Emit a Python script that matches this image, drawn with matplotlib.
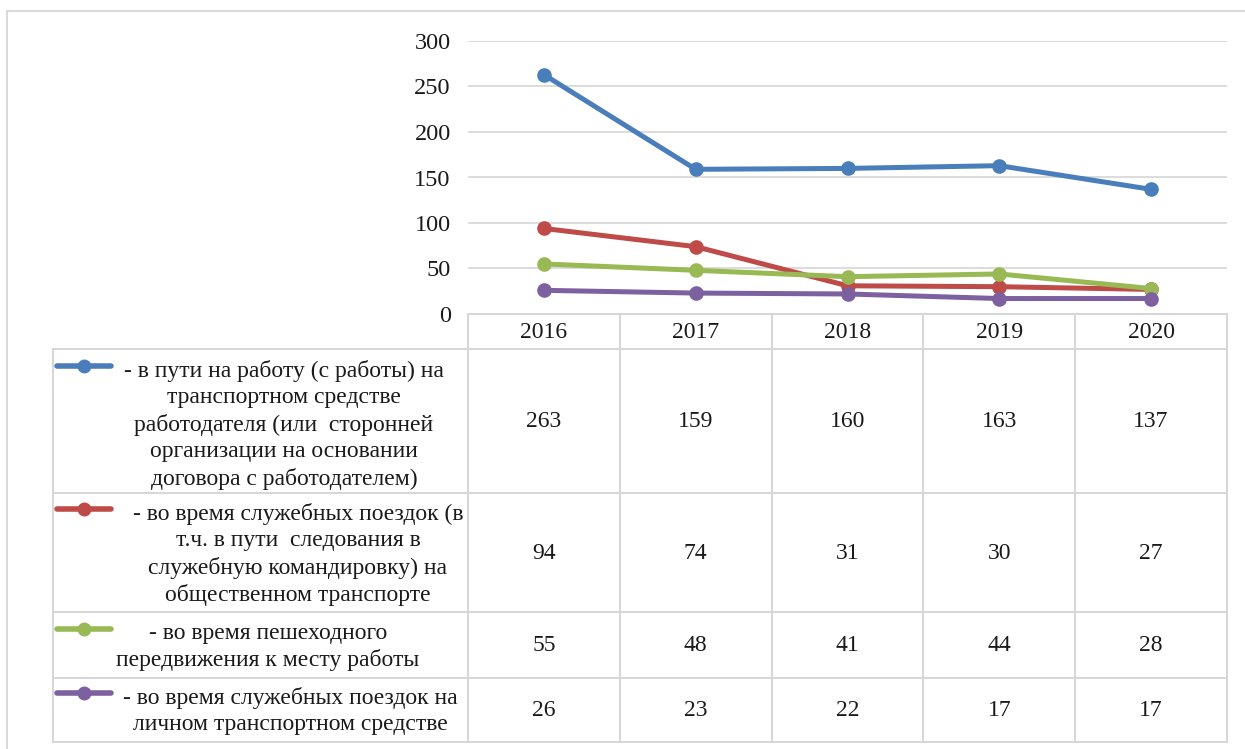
import matplotlib
matplotlib.use("Agg")
import matplotlib.pyplot as plt
from matplotlib.lines import Line2D

years = ["2016", "2017", "2018", "2019", "2020"]
series_labels = [
    "- в пути на работу (с работы) на\nтранспортном средстве\nработодателя (или  сторонней\nорганизации на основании\nдоговора с работодателем)",
    "- во время служебных поездок (в\nт.ч. в пути  следования в\nслужебную командировку) на\nобщественном транспорте",
    "- во время пешеходного\nпередвижения к месту работы",
    "- во время служебных поездок на\nличном транспортном средстве",
]
s_work_transport = [263, 159, 160, 163, 137]
s_business_public = [94, 74, 31, 30, 27]
s_pedestrian = [55, 48, 41, 44, 28]
s_business_personal = [26, 23, 22, 17, 17]
series_values = [s_work_transport, s_business_public, s_pedestrian, s_business_personal]
colors = ["#4A7EBB", "#BE4B48", "#98B954", "#7D60A0"]
yticks = [0, 50, 100, 150, 200, 250, 300]

W, H = 1245, 749
fig = plt.figure(figsize=(W / 100, H / 100), dpi=100)
plt.rcParams['font.family'] = ['Liberation Serif', 'DejaVu Serif']
FS = 17
FS_TICK = 17.5
grid_c = "#D9D9D9"
text_c = "#1A1A1A"

def fx(px):
    return px / W

def fy(py):
    return 1 - py / H

# Chart area
L, R, T, B = 468, 1227, 41, 314
ax = fig.add_axes([fx(L), fy(B), fx(R) - fx(L), fy(T) - fy(B)])
x = list(range(len(years)))
for vals, c in zip(series_values, colors):
    ax.plot(x, vals, color=c, lw=3.6, marker="o", ms=9.5, solid_capstyle="round", zorder=3)
ax.set_xlim(-0.5, len(years) - 0.5)
ax.set_ylim(0, 300)
ax.set_yticks(yticks)
ax.set_yticklabels([str(v) for v in yticks], fontsize=FS_TICK, color=text_c)
ax.set_xticks([])
ax.tick_params(axis="y", length=0, pad=12.5)
for s in ax.spines.values():
    s.set_visible(False)
ax.grid(axis="y", color=grid_c, lw=1.3)
ax.set_axisbelow(True)
ax.patch.set_alpha(0)

# Table area (pixel coordinates)
TL, TR, TT, TB = 53, 1227, 314, 742
tax = fig.add_axes([fx(TL), fy(TB), fx(TR) - fx(TL), fy(TT) - fy(TB)])
tax.set_xlim(TL, TR)
tax.set_ylim(TB, TT)
tax.axis("off")

col_w = (R - L) / len(years)
col_edges = [L + i * col_w for i in range(len(years) + 1)]
row_edges = [314, 349, 493, 612, 678, 742]
lc = "#D6D6D6"
lw = 1.4
tax.plot([L, R], [row_edges[0], row_edges[0]], color=lc, lw=lw, clip_on=False)
for ry in row_edges[1:]:
    tax.plot([TL, R], [ry, ry], color=lc, lw=lw, clip_on=False)
tax.plot([TL, TL], [row_edges[1], row_edges[-1]], color=lc, lw=lw, clip_on=False)
for cx in col_edges:
    tax.plot([cx, cx], [row_edges[0], row_edges[-1]], color=lc, lw=lw, clip_on=False)

for i, yr in enumerate(years):
    tax.text((col_edges[i] + col_edges[i + 1]) / 2, (row_edges[0] + row_edges[1]) / 2 + 1, yr,
             ha="center", va="center", fontsize=FS, color=text_c)

text_cx = [284, 298, 268, 290]
text_dy = [4, 2, 2, 1]
line_h = 27.5
for r, (lab, vals, c) in enumerate(zip(series_labels, series_values, colors)):
    y0, y1 = row_edges[r + 1], row_edges[r + 2]
    yc = (y0 + y1) / 2
    nlines = lab.count("\n") + 1
    ty = yc + text_dy[r]
    tax.text(text_cx[r], ty, lab, ha="center", va="center", fontsize=FS,
             color=text_c, linespacing=1.33, multialignment="center")
    first_y = ty - (nlines - 1) * line_h / 2
    tax.add_line(Line2D([57, 111], [first_y - 4, first_y - 4], color=c, lw=4,
                        solid_capstyle="round"))
    tax.plot([84], [first_y - 4], marker="o", ms=9, color=c)
    for i, v in enumerate(vals):
        tax.text((col_edges[i] + col_edges[i + 1]) / 2, yc + 1, str(v),
                 ha="center", va="center", fontsize=FS, color=text_c)

fig.add_artist(Line2D([fx(7), fx(7)], [fy(11), 0], color="#D9D9D9", lw=1.5))
fig.add_artist(Line2D([fx(7), 1], [fy(11), fy(11)], color="#D9D9D9", lw=1.5))

fig.savefig("out.png", dpi=100)
